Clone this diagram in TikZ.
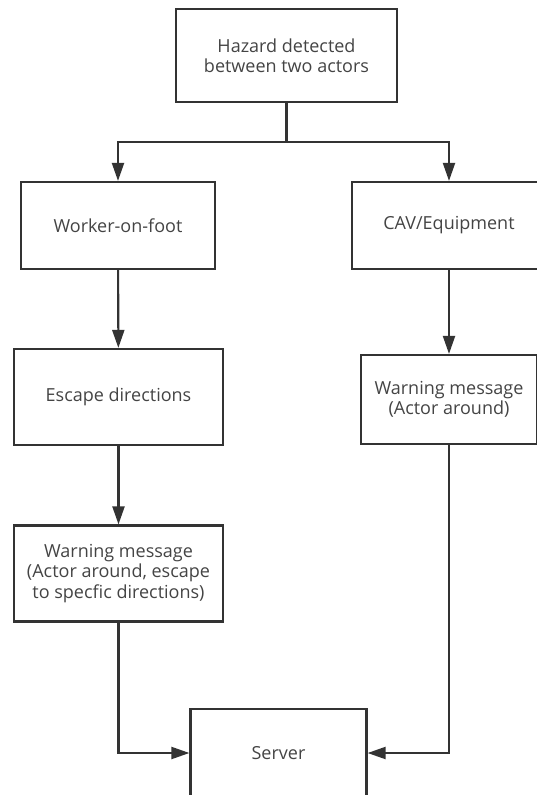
\documentclass[tikz,border=0pt]{standalone}
\usepackage{fontspec}
\setmainfont{Open Sans}
\usetikzlibrary{positioning,arrows.meta}

\definecolor{ink}{HTML}{333333}
\definecolor{txt}{HTML}{444444}

\begin{document}
\begin{tikzpicture}[
    x=1pt, y=-1pt,
    align=center,
    font=\fontsize{18}{20.5}\selectfont,
    box/.style={rectangle, draw=ink, line width=2.2pt, text=txt, inner sep=0pt},
    wide/.style={box, minimum width=194pt, minimum height=87pt},
    tall/.style={box, minimum width=209pt, minimum height=96pt},
    flow/.style={-{Triangle[length=18pt, width=12pt]}, draw=ink, line width=2.1pt},
    link/.style={draw=ink, line width=2.1pt},
  ]

  \useasboundingbox (0,0) rectangle (537,795);

  % actors
  \node (hazard)  [box, minimum width=221pt, minimum height=93pt] at (286.5,55.5) {Hazard detected\\between two actors};
  \coordinate (fork) at (286.5,142);

  \node (worker)  [wide] at (118,225.5) {Worker-on-foot};
  \node (cav)     [wide] at (449,225.5) {CAV/Equipment};

  % messages
  \node (escape)  [tall] at (118.5,397) {Escape directions};
  \node (warnw)   [tall] at (118.5,573.5) {Warning message\\(Actor around, escape\\to specfic directions)};
  \node (warnc)   [box, minimum width=176pt, minimum height=89pt] at (449,399.5) {Warning message\\(Actor around)};

  \node (server)  [box, minimum width=176pt, minimum height=88pt] at (278.5,753) {Server};

  % flow
  \draw[link]  (hazard) -- (fork);
  \draw[flow]  (fork) -| (worker);
  \draw[flow]  (fork) -| (cav);

  \draw[flow]  (worker) -- (escape);
  \draw[flow]  (escape) -- (warnw);
  \draw[flow]  (cav) -- (warnc);

  \draw[flow]  (warnw) |- (server);
  \draw[flow]  (warnc) |- (server);

\end{tikzpicture}
\end{document}
